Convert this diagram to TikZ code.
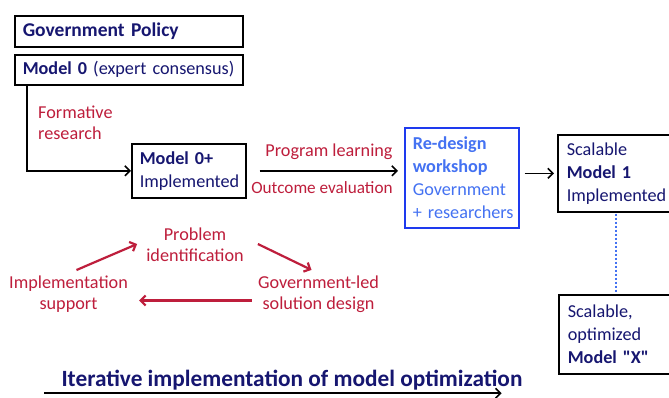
\documentclass[tikz,border=0pt]{standalone}
\usepackage{fontspec}
\setmainfont{Carlito}[Ligatures=TeXOff]
\usetikzlibrary{arrows.meta,calc}
\definecolor{navy}{HTML}{161670}
\definecolor{dred}{HTML}{BE1E3C}
\definecolor{bborder}{HTML}{1E3AEE}
\definecolor{btext}{HTML}{4472F2}
\newcommand{\fs}{\fontsize{18.2}{23}\selectfont\hyphenpenalty=10000\exhyphenpenalty=10000}
\newcommand{\fr}{\fontsize{18.2}{21}\selectfont}
\begin{document}
\begin{tikzpicture}[x=1pt,y=-1pt,
  box/.style={draw=black, line width=1.6pt, anchor=north west, inner ysep=0pt, inner xsep=0pt, align=left, font=\fs, text=navy},
  lbl/.style={inner sep=0pt, align=center, font=\fr, text=dred},
  arr/.style={-{Straight Barb[length=5pt,width=10pt]}, line width=1.6pt, black},
  rarr/.style={-{Straight Barb[length=5pt,width=10pt]}, line width=2.2pt, dred}]
\useasboundingbox (0,0) rectangle (669,397);
\fill[white] (0,0) rectangle (669,397);

\node[box, font=\fontsize{19.5}{23}\selectfont, minimum width=228pt, minimum height=31pt, text width=212pt] (gp) at (14,15) {\textbf{Government Policy}};
\node[box, minimum width=228pt, minimum height=30pt, text width=212pt] (m0) at (14,54) {\textbf{Model 0} (expert consensus)};
\node[box, minimum width=114pt, minimum height=54pt, text width=98pt] (m0p) at (131,143) {\textbf{Model 0+}\\Implemented};
\node[box, draw=bborder, text=btext, minimum width=114pt, minimum height=100pt, text width=98pt] (rd) at (404,127) {\textbf{Re-design}\\\textbf{workshop}\\Government\\\mbox{+ researchers}};
\node[box, minimum width=130pt, minimum height=77pt, text width=112pt] (m1) at (557,134) {Scalable\\\textbf{Model 1}\\Implemented};
\node[box, minimum width=130pt, minimum height=79pt, text width=112pt] (mx) at (558,294) {Scalable,\\optimized\\\textbf{Model "X"}};

\node[lbl, align=left, anchor=west] (fr) at (38,122.5) {Formative\\research};
\draw[arr] ($(m0.south west)+(13,0)$) |- (m0p.west);

\node[lbl] (pl) at (329,152) {Program learning};
\node[lbl, font=\fontsize{17.2}{21}\selectfont] (oe) at (322,188) {Outcome evaluation};
\draw[arr, shorten <=13pt, shorten >=6pt] (m0p.east) -- (m0p.east -| rd.west);
\draw[arr, shorten <=5pt, shorten >=3pt] (rd.east |- m1.west) -- (m1.west);
\draw[btext, line width=2pt, dash pattern=on 2pt off 2pt] ($(m1.south west)+(59,1)$) -- ($(mx.north west)+(58,-1)$);

\node[lbl] (prob) at (195,245) {Problem\\identification};
\node[lbl] (impl) at (68.5,294.5) {Implementation\\support};
\node[lbl] (gov) at (318.5,294.5) {Government-led\\solution design};
\draw[rarr] ($(impl.north)+(8,-6)$) -- ($(prob.west)+(-9,-1)$);
\draw[rarr] ($(prob.east)+(14,-1)$) -- ($(gov.north)+(-7,-6)$);
\draw[rarr] ($(gov.west)+(-6,6)$) -- ($(impl.east)+(11,6)$);

\node[inner sep=0pt, font=\bfseries\fontsize{23.3}{26}\selectfont, text=navy] (title) at (292,380) {Iterative implementation of model optimization};
\draw[arr] ($(title.south west)+(-17,3)$) -- ($(title.south east)+(-21,3)$);
\end{tikzpicture}
\end{document}
